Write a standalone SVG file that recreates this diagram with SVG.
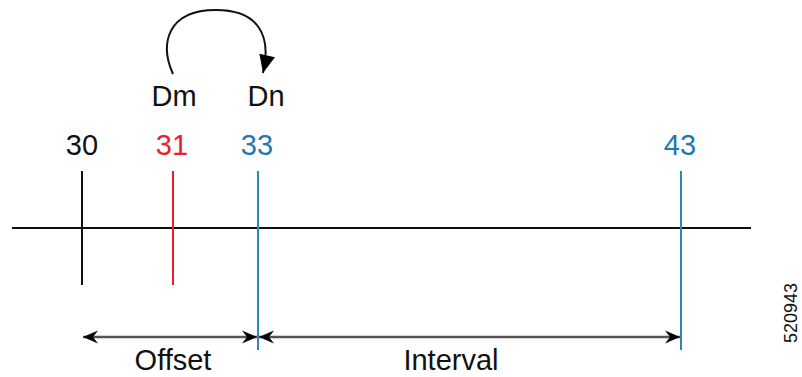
<svg xmlns="http://www.w3.org/2000/svg" width="802" height="377" viewBox="0 0 802 377">
<style>
text{font-family:"Liberation Sans",Arial,sans-serif;font-size:29px;text-anchor:middle}
.blk{fill:#111}
.red{fill:#ec1c2b}
.blu{fill:#1f78ae}
.tk{stroke-width:2;fill:none}
.dim{stroke:#555;stroke-width:2.5;fill:none}
</style>
<defs>
<marker id="ah" viewBox="-16 -8 16 16" refX="0" refY="0" markerWidth="16" markerHeight="16" markerUnits="userSpaceOnUse" orient="auto-start-reverse">
<path d="M0,0 L-15,-6.5 L-10,0 L-15,6.5 Z" fill="#000"/>
</marker>
<marker id="ca" viewBox="-20 -10 20 20" refX="0" refY="0" markerWidth="20" markerHeight="20" markerUnits="userSpaceOnUse" orient="auto">
<path d="M0,0 L-18,-8 L-18,8 Z" fill="#000"/>
</marker>
</defs>
<g id="axis">
<line x1="12" y1="228" x2="751" y2="228" stroke="#111" stroke-width="2"/>
</g>
<g id="t30">
<line class="tk" x1="82" y1="171" x2="82" y2="285" stroke="#111"/>
<text class="blk" x="82" y="155">30</text>
</g>
<g id="t31">
<line class="tk" x1="173" y1="171" x2="173" y2="285" stroke="#ec1c2b"/>
<text class="red" x="172" y="155">31</text>
</g>
<g id="t33">
<line class="tk" x1="258" y1="171" x2="258" y2="350" stroke="#2f86bd"/>
<text class="blu" x="257" y="155">33</text>
</g>
<g id="t43">
<line class="tk" x1="681" y1="171" x2="681" y2="350" stroke="#2f86bd"/>
<text class="blu" x="680" y="155">43</text>
</g>
<g id="dm"><text class="blk" x="174" y="106">Dm</text></g>
<g id="dn"><text class="blk" x="266" y="106">Dn</text></g>
<g id="connectors">
<path d="M173,74 C160,45 166,10 216,10 C258,10 272,35 263,73" fill="none" stroke="#111" stroke-width="2" marker-end="url(#ca)"/>
<line class="dim" x1="83" y1="337" x2="257" y2="337" marker-start="url(#ah)" marker-end="url(#ah)"/>
<line class="dim" x1="259" y1="337" x2="680" y2="337" marker-start="url(#ah)" marker-end="url(#ah)"/>
</g>
<g id="labels">
<text class="blk" x="173" y="370">Offset</text>
<text class="blk" x="451" y="370">Interval</text>
<text class="blk" style="font-size:18px" transform="translate(797,313) rotate(-90)">520943</text>
</g>
</svg>
